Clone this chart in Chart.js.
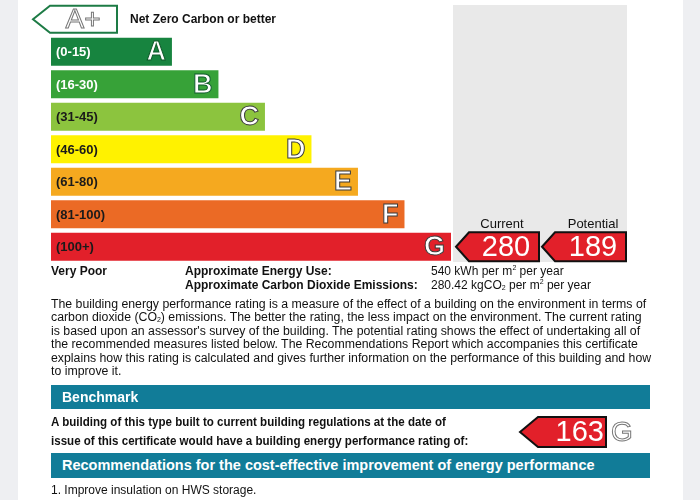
<!DOCTYPE html>
<html>
<head>
<meta charset="utf-8">
<script src="https://cdn.jsdelivr.net/npm/chart.js@4.4.0/dist/chart.umd.min.js"></script>
<style>
  html, body { margin: 0; padding: 0; }
  body { width: 700px; height: 500px; background: #eeeff2; position: relative; overflow: hidden;
         font-family: "Liberation Sans", Arial, sans-serif; color: #111; }
  #page { position: absolute; left: 18px; top: 0; width: 665px; height: 500px; background: #fff; }
  #epc { position: absolute; left: 0; top: 0; z-index: 1; }
  .t { position: absolute; white-space: nowrap; z-index: 2; }
  .b { font-weight: bold; }
  .bar { position: absolute; left: 51px; width: 599px; background: #117c98; z-index: 2; color: #fff; font-weight: bold; white-space: nowrap; }
  sup, sub { line-height: 0; font-size: 7px; }
  sup { vertical-align: 5px; }
  sub { vertical-align: -1px; }
</style>
</head>
<body>
<div id="page"></div>
<canvas id="epc" width="700" height="500"></canvas>

<div class="t b" style="left:51px; top:265px; font-size:12px; line-height:13.5px;">Very Poor</div>
<div class="t b" style="left:185px; top:265px; font-size:12px; line-height:13.5px;">Approximate Energy Use:<br>Approximate Carbon Dioxide Emissions:</div>
<div class="t" style="left:431px; top:265px; font-size:12px; line-height:13.5px;">540 kWh per m<sup>2</sup> per year<br>280.42 kgCO<sub>2</sub> per m<sup>2</sup> per year</div>

<div class="t" style="left:51px; top:298px; font-size:12.3px; line-height:13.4px;">
The building energy performance rating is a measure of the effect of a building on the environment in terms of<br>
carbon dioxide (CO<sub>2</sub>) emissions. The better the rating, the less impact on the environment. The current rating<br>
is based upon an assessor's survey of the building. The potential rating shows the effect of undertaking all of<br>
the recommended measures listed below. The Recommendations Report which accompanies this certificate<br>
explains how this rating is calculated and gives further information on the performance of this building and how<br>
to improve it.</div>

<div class="bar" style="top:385px; height:24px; line-height:24px; font-size:14px; padding-left:11px; box-sizing:border-box;">Benchmark</div>
<div class="t b" style="left:51px; top:411.5px; font-size:13px; line-height:19px; transform:scaleX(0.89); transform-origin:0 0;">A building of this type built to current building regulations at the date of<br>issue of this certificate would have a building energy performance rating of:</div>
<div class="bar" style="top:453px; height:25px; line-height:25px; font-size:14.5px; padding-left:11px; box-sizing:border-box;">Recommendations for the cost-effective improvement of energy performance</div>
<div class="t" style="left:51px; top:483px; font-size:12px; line-height:14px;">1. Improve insulation on HWS storage.</div>

<script>
// rating bands (top row A+ is the outlined "net zero" arrow)
const bands = ['A+', 'A', 'B', 'C', 'D', 'E', 'F', 'G'];
const bandRanges = ['Net Zero Carbon or better', '(0-15)', '(16-30)', '(31-45)', '(46-60)', '(61-80)', '(81-100)', '(100+)'];
const bandLengths = [null, 26, 36, 46, 56, 66, 76, 86];
const bandColors = [null, '#17843f', '#37a238', '#8cc43e', '#fff200', '#f5a91f', '#eb6a25', '#e2202a'];

const currentRating = 280;
const potentialRating = 189;
const benchmarkRating = 163;
const ratingBand = 'G';
const benchmarkBand = 'G';

const FONT = '"Liberation Sans", Arial, sans-serif';

function drawArrow(ctx, tipX, y, headW, rightX, h, fill, stroke, lw) {
    ctx.beginPath();
    ctx.moveTo(tipX, y);
    ctx.lineTo(tipX + headW, y - h / 2);
    ctx.lineTo(rightX, y - h / 2);
    ctx.lineTo(rightX, y + h / 2);
    ctx.lineTo(tipX + headW, y + h / 2);
    ctx.closePath();
    ctx.fillStyle = fill;
    ctx.fill();
    ctx.lineWidth = lw;
    ctx.strokeStyle = stroke;
    ctx.stroke();
}

function outlinedText(ctx, text, x, y, font, fill, stroke, align) {
    ctx.font = font;
    ctx.textAlign = align;
    ctx.textBaseline = 'middle';
    ctx.fillStyle = fill;
    ctx.fillText(text, x, y);
    ctx.lineWidth = 1;
    ctx.strokeStyle = stroke;
    ctx.strokeText(text, x, y);
}

const epcPlugin = {
    id: 'epc',
    beforeDatasetsDraw(chart) {
        const ctx = chart.ctx;
        // grey panel behind current/potential
        ctx.save();
        ctx.fillStyle = '#e9e9e9';
        ctx.fillRect(453, 5, 174, 257);
        ctx.restore();
    },
    afterDatasetsDraw(chart) {
        const ctx = chart.ctx;
        const y = chart.scales.y;
        const x = chart.scales.x;
        const area = chart.chartArea;
        ctx.save();

        // A+ arrow
        const yTop = y.getPixelForValue(0);
        drawArrow(ctx, 33, yTop, 17, 117, 27, '#ffffff', '#1d7b45', 2);
        outlinedText(ctx, 'A+', 83, yTop + 1, '28px ' + FONT, '#ffffff', '#777777', 'center');
        ctx.font = 'bold 12px ' + FONT;
        ctx.fillStyle = '#111';
        ctx.textAlign = 'left';
        ctx.fillText(bandRanges[0], 130, yTop);

        // band labels and letters
        for (let i = 1; i < bands.length; i++) {
            const cy = y.getPixelForValue(i);
            ctx.font = 'bold 13px ' + FONT;
            ctx.textAlign = 'left';
            ctx.textBaseline = 'middle';
            ctx.fillStyle = i <= 2 ? '#ffffff' : '#1a1a1a';
            ctx.fillText(bandRanges[i], area.left + 5, cy + 1);
            const endX = x.getPixelForValue(bandLengths[i]);
            outlinedText(ctx, bands[i], endX - 6, cy + 1, 'bold 27px ' + FONT, '#ffffff',
                i <= 2 ? '#0e5a2a' : '#3a3a3a', 'right');
        }

        // current / potential arrows on the rating band row
        const gy = y.getPixelForValue(bands.indexOf(ratingBand));
        ctx.font = '13px ' + FONT;
        ctx.fillStyle = '#111';
        ctx.textAlign = 'center';
        ctx.textBaseline = 'alphabetic';
        ctx.fillText('Current', 502, 228);
        ctx.fillText('Potential', 593, 228);
        drawArrow(ctx, area.right + 5, gy, 13, 539, 29, '#e2202a', '#111111', 2);
        drawArrow(ctx, 542, gy, 13, 626, 29, '#e2202a', '#111111', 2);
        ctx.font = '29px ' + FONT;
        ctx.fillStyle = '#ffffff';
        ctx.textBaseline = 'middle';
        ctx.fillText(String(currentRating), 506, gy + 1);
        ctx.fillText(String(potentialRating), 593, gy + 1);

        // benchmark arrow
        const by = 432;
        drawArrow(ctx, 520, by, 18, 606, 30, '#e2202a', '#111111', 2);
        ctx.font = '29px ' + FONT;
        ctx.fillStyle = '#ffffff';
        ctx.textAlign = 'right';
        ctx.fillText(String(benchmarkRating), 604, by + 1);
        outlinedText(ctx, benchmarkBand, 611, by + 1, '28px ' + FONT, '#ffffff', '#777777', 'left');

        ctx.restore();
    }
};

new Chart(document.getElementById('epc'), {
    type: 'bar',
    data: {
        labels: bands,
        datasets: [{
            data: bandLengths,
            backgroundColor: bandColors,
            borderWidth: 0,
            barPercentage: 0.86,
            categoryPercentage: 1
        }]
    },
    options: {
        indexAxis: 'y',
        responsive: false,
        animation: false,
        layout: { padding: { left: 51, right: 249, top: 3, bottom: 237 } },
        scales: {
            x: { display: false, min: 0, max: 86 },
            y: { display: false }
        },
        plugins: { legend: { display: false }, tooltip: { enabled: false } }
    },
    plugins: [epcPlugin]
});
</script>
</body>
</html>
